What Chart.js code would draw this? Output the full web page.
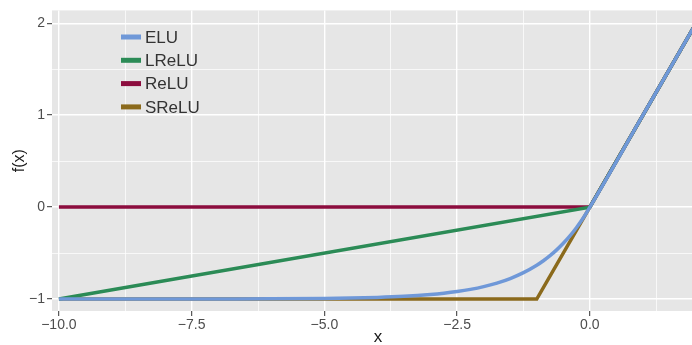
<!DOCTYPE html>
<html>
<head>
<meta charset="utf-8">
<script src="https://cdn.jsdelivr.net/npm/chart.js@4.4.1/dist/chart.umd.min.js"></script>
<style>
  html, body { margin: 0; padding: 0; background: #fff; overflow: hidden; }
  #wrap { width: 704px; height: 345px; }
</style>
</head>
<body>
<div id="wrap"><canvas id="chart"></canvas></div>
<script>
// series
const seriesNames = ["ELU", "LReLU", "ReLU", "SReLU"];
const seriesColors = ["#6f98d8", "#2b8b56", "#8c0d3e", "#8b6a1c"];

const eluX = [-10, -9, -8, -7, -6, -5, -4.5, -4, -3.5, -3, -2.75, -2.5, -2.25, -2, -1.75, -1.5, -1.25, -1, -0.875, -0.75, -0.625, -0.5, -0.375, -0.25, -0.125, 0, 1, 2.15];
const eluY = [-1, -1, -1, -0.999, -0.998, -0.993, -0.989, -0.982, -0.970, -0.950, -0.936, -0.918, -0.895, -0.865, -0.826, -0.777, -0.713, -0.632, -0.583, -0.528, -0.465, -0.393, -0.313, -0.221, -0.118, 0, 1, 2.15];
const lreluX = [-10, 0, 2.15];
const lreluY = [-1, 0, 2.15];
const reluX = [-10, 0, 2.15];
const reluY = [0, 0, 2.15];
const sreluX = [-10, -1, 0, 2.15];
const sreluY = [-1, -1, 0, 2.15];

const xTicksMajor = [-10, -7.5, -5, -2.5, 0];
const yTicksMajor = [-1, 0, 1, 2];

function pts(xs, ys) {
  return xs.map((x, i) => ({ x: x, y: ys[i] }));
}

const allX = [eluX, lreluX, reluX, sreluX];
const allY = [eluY, lreluY, reluY, sreluY];

const datasets = seriesNames.map((name, i) => ({
  label: name,
  data: pts(allX[i], allY[i]),
  borderColor: seriesColors[i],
  borderWidth: 3.5,
  pointRadius: 0,
  fill: false,
  cubicInterpolationMode: i === 0 ? "monotone" : "default",
  tension: 0
}));

function isMajor(v, list) {
  return list.some(t => Math.abs(t - v) < 1e-6);
}
function fmt(v, digits) {
  return v.toFixed(digits).replace("-", "\u2212");
}

// legend drawn inside the panel, ggplot style
const insideLegend = {
  id: "insideLegend",
  afterDatasetsDraw(chart) {
    const ctx = chart.ctx;
    ctx.save();
    ctx.font = "17px 'Liberation Sans', Arial, sans-serif";
    ctx.textBaseline = "middle";
    seriesNames.forEach((name, i) => {
      const y = 37 + i * 23.3;
      ctx.strokeStyle = seriesColors[i];
      ctx.lineWidth = 5;
      ctx.beginPath();
      ctx.moveTo(121, y);
      ctx.lineTo(141, y);
      ctx.stroke();
      ctx.fillStyle = "#333333";
      ctx.fillText(name, 145, y + 1);
    });
    ctx.restore();
  }
};

const panelBg = {
  id: "panelBg",
  beforeDraw(chart) {
    const a = chart.chartArea;
    chart.ctx.save();
    chart.ctx.fillStyle = "#e6e6e6";
    chart.ctx.fillRect(a.left, a.top, a.right - a.left, a.bottom - a.top);
    chart.ctx.restore();
  }
};

new Chart(document.getElementById("chart"), {
  type: "line",
  data: { datasets: datasets },
  plugins: [panelBg, insideLegend],
  options: {
    responsive: true,
    maintainAspectRatio: false,
    animation: false,
    layout: { padding: { top: 10, right: 0, bottom: 0, left: 0 } },
    plugins: { legend: { display: false }, tooltip: { enabled: false } },
    scales: {
      x: {
        type: "linear",
        min: -10.13,
        max: 2.15,
        border: { display: false },
        grid: {
          color: "#ffffff",
          lineWidth: c => isMajor(c.tick.value, xTicksMajor) ? 1.4 : 0.7,
          tickColor: c => isMajor(c.tick.value, xTicksMajor) ? "#333333" : "rgba(0,0,0,0)",
          tickWidth: 1,
          tickLength: 5
        },
        ticks: {
          stepSize: 1.25,
          includeBounds: false,
          autoSkip: false,
          maxRotation: 0,
          padding: 1,
          color: "#4d4d4d",
          font: { family: "'Liberation Sans', Arial, sans-serif", size: 14 },
          callback: v => isMajor(v, xTicksMajor) ? fmt(v, 1) : ""
        },
        title: {
          display: true,
          text: "x",
          color: "#1a1a1a",
          padding: { top: 0, bottom: -2.6 },
          font: { family: "'Liberation Sans', Arial, sans-serif", size: 17 }
        },
        afterFit(s) { s.height = 34; }
      },
      y: {
        type: "linear",
        min: -1.13,
        max: 2.14,
        border: { display: false },
        grid: {
          color: "#ffffff",
          lineWidth: c => isMajor(c.tick.value, yTicksMajor) ? 1.4 : 0.7,
          tickColor: c => isMajor(c.tick.value, yTicksMajor) ? "#333333" : "rgba(0,0,0,0)",
          tickWidth: 1,
          tickLength: 5
        },
        ticks: {
          stepSize: 0.5,
          includeBounds: false,
          autoSkip: false,
          padding: 2,
          color: "#4d4d4d",
          font: { family: "'Liberation Sans', Arial, sans-serif", size: 14 },
          callback: v => isMajor(v, yTicksMajor) ? fmt(v, 0) : ""
        },
        title: {
          display: true,
          text: "f(x)",
          color: "#1a1a1a",
          padding: { top: 10, bottom: 0 },
          font: { family: "'Liberation Sans', Arial, sans-serif", size: 16 }
        },
        afterFit(s) { s.width = 52; }
      }
    }
  }
});
</script>
</body>
</html>
